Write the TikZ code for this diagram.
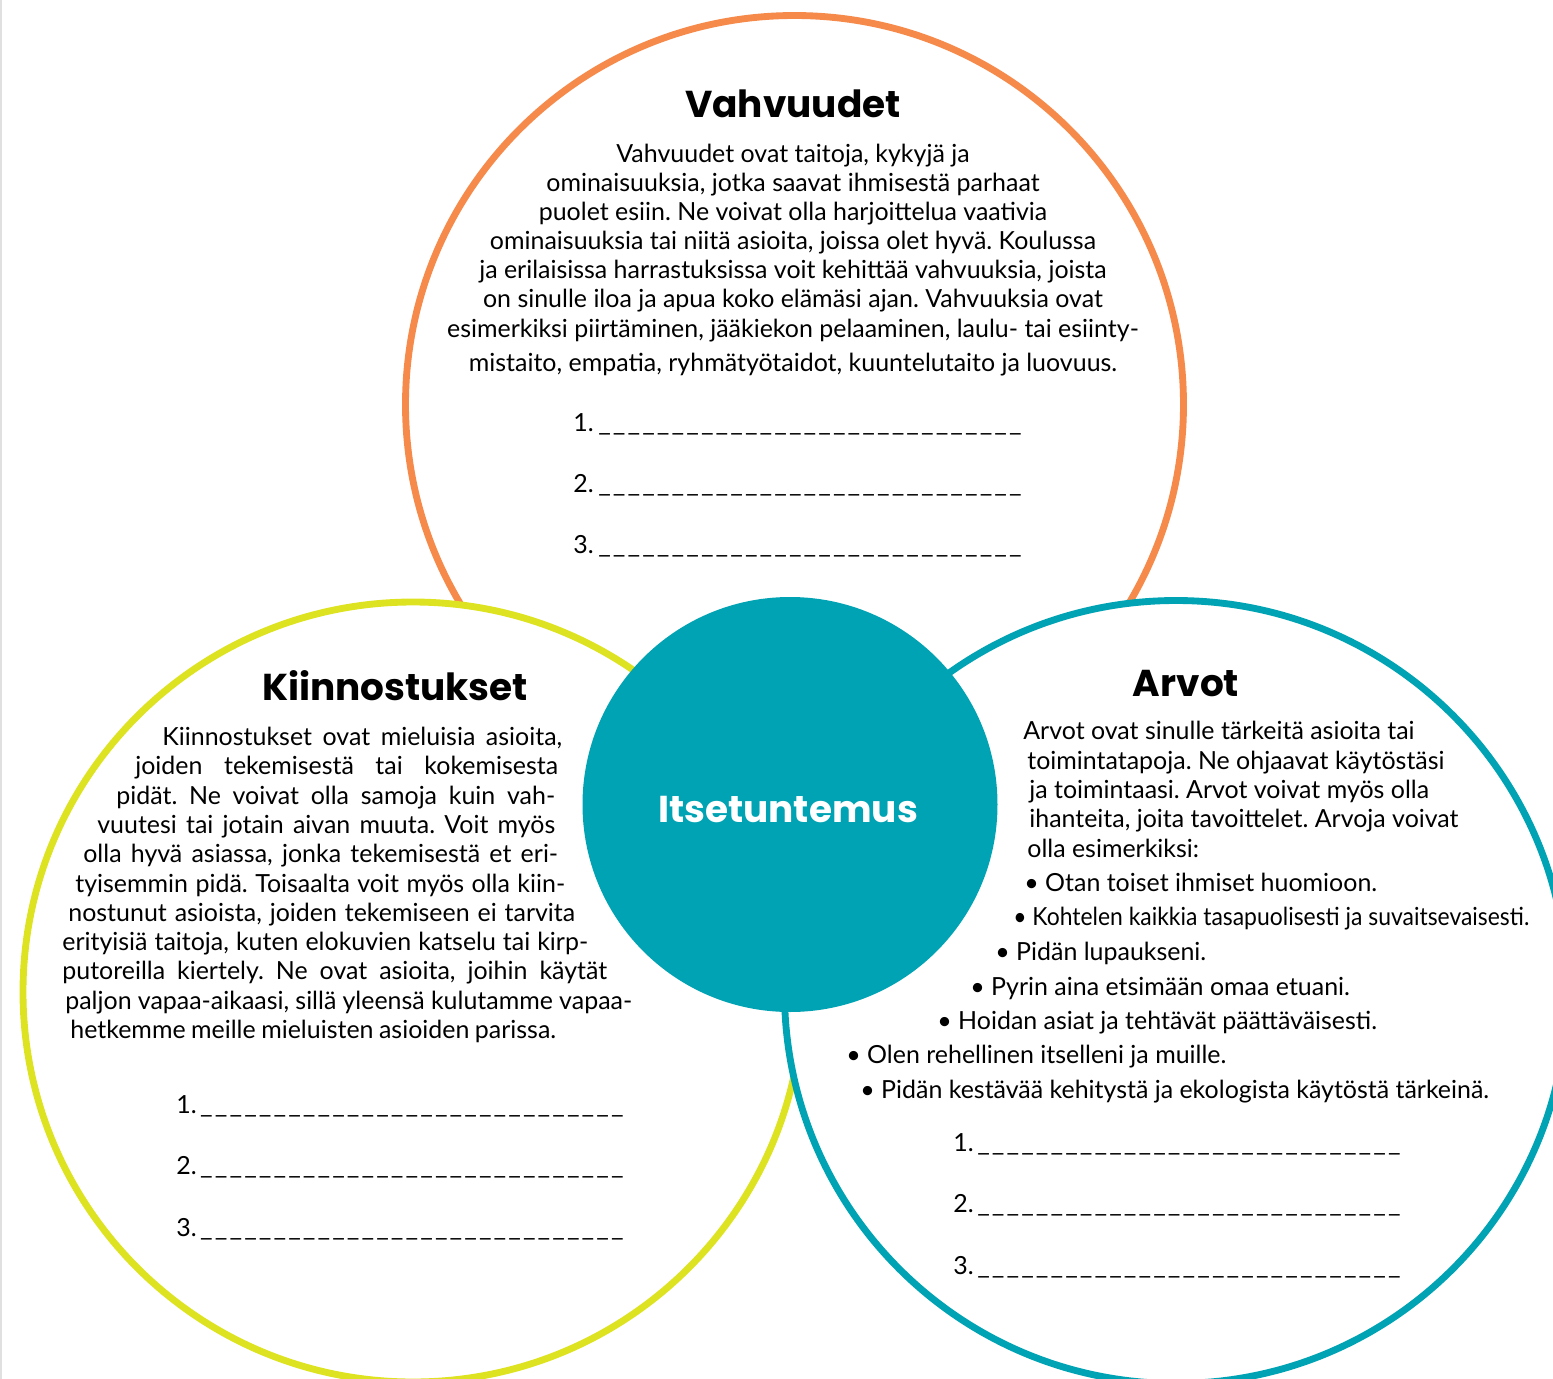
\documentclass[tikz,border=0pt]{standalone}
\usepackage{fontspec}
\usepackage{graphicx}
\setmainfont{Lato}
\newfontfamily\headfont{Poppins}

\definecolor{vorange}{HTML}{F58A4B}
\definecolor{kyellow}{HTML}{DDE320}
\definecolor{ateal}{HTML}{00A3B3}

% row of underscores for the answer lines
\newcommand{\usc}{\scalebox{1.1}[1]{\_}\hfil}
\newcommand{\dashrow}{\makebox[241pt][s]{\usc\usc\usc\usc\usc\usc\usc\usc\usc\usc\usc\usc\usc\usc\usc\usc\usc\usc\usc\usc\usc\usc\usc\usc\usc\usc\usc\usc\scalebox{1.1}[1]{\_}}}

\tikzset{
  ring/.style={line width=3.9pt, fill=white, draw=#1},
  title/.style={font=\headfont\bfseries\fontsize{21.3}{26}\selectfont, anchor=base, inner sep=0pt},
  txt/.style={font=\frenchspacing\fontsize{14.2}{17}\selectfont, anchor=base west, inner sep=0pt},
  ctxt/.style={txt, anchor=base},
}

\begin{document}
\begin{tikzpicture}[x=0.02cm, y=-0.02cm]
  \useasboundingbox (0,0) rectangle (1553,1379);
  \draw [black!12, line width=0.8pt] (1,0) -- (1,1379);

  % circles
  \draw [ring=vorange] (794.5,404.5) circle (389);
  \draw [ring=kyellow] (413,992) circle (390);
  \draw [ring=ateal] (1176,992) circle (391.5);
  \fill [ateal] (790,804.5) circle (207.5);

  % titles
  \node [title] (vahv) at (793,117) {Vahvuudet};
  \node [title] (kiin) at (395,700) {Kiinnostukset};
  \node [title] (arvot) at (1186,696) {Arvot};
  \node [title, white] (itse) at (788,822) {Itsetuntemus};

  % Vahvuudet
  \foreach \i/\y/\t in {1/162/{Vahvuudet ovat taitoja, kykyjä ja},
      2/191/{ominaisuuksia, jotka saavat ihmisestä parhaat},
      3/220/{puolet esiin. Ne voivat olla harjoittelua vaativia},
      4/249/{ominaisuuksia tai niitä asioita, joissa olet hyvä. Koulussa},
      5/278/{ja erilaisissa harrastuksissa voit kehittää vahvuuksia, joista},
      6/307/{on sinulle iloa ja apua koko elämäsi ajan. Vahvuuksia ovat},
      7/337/{esimerkiksi piirtäminen, jääkiekon pelaaminen, laulu- tai esiinty-},
      8/371/{mistaito, empatia, ryhmätyötaidot, kuuntelutaito ja luovuus.}}
    \node [ctxt] (v\i) at (793,\y) {\t};

  \foreach \i/\y in {1/431, 2/492, 3/553}
    \node [txt] (vb\i) at (573,\y) {\makebox[14.2pt][l]{\i.}\dashrow};

  % Kiinnostukset
  \foreach \i/\y/\xl/\xr/\t in {1/745/162/562/{Kiinnostukset ovat mieluisia asioita,},
      2/774/135/558/{joiden tekemisestä tai kokemisesta},
      3/804/116/555/{pidät. Ne voivat olla samoja kuin vah-},
      4/833/97/555/{vuutesi tai jotain aivan muuta. Voit myös},
      5/862/83/558/{olla hyvä asiassa, jonka tekemisestä et eri-},
      6/892/75/565/{tyisemmin pidä. Toisaalta voit myös olla kiin-},
      7/921/68/575/{nostunut asioista, joiden tekemiseen ei tarvita},
      8/950/62/588/{erityisiä taitoja, kuten elokuvien katselu tai kirp-},
      9/979/62/607/{putoreilla kiertely. Ne ovat asioita, joihin käytät},
      10/1009/65/632/{paljon vapaa-aikaasi, sillä yleensä kulutamme vapaa-},
      11/1038/70/556/{hetkemme meille mieluisten asioiden parissa.}}
  {
    \pgfmathsetmacro\w{(\xr-\xl)*0.569}
    \node [txt] (k\i) at (\xl,\y) {\makebox[\w pt][s]{\t}};
  }

  \foreach \i/\y in {1/1113, 2/1174, 3/1236}
    \node [txt] (kb\i) at (176,\y) {\makebox[13.6pt][l]{\i.}\dashrow};

  % Arvot
  \foreach \i/\x/\y/\t in {1/1023/739/{Arvot ovat sinulle tärkeitä asioita tai},
      2/1027/769/{toimintatapoja. Ne ohjaavat käytöstäsi},
      3/1029/798/{ja toimintaasi. Arvot voivat myös olla},
      4/1029/827/{ihanteita, joita tavoittelet. Arvoja voivat},
      5/1027/857/{olla esimerkiksi:},
      6/1024/891/{• Otan toiset ihmiset huomioon.},
      7/1013/925/{\scalebox{0.918}[1]{• Kohtelen kaikkia tasapuolisesti ja suvaitsevaisesti.}},
      8/995/960/{• Pidän lupaukseni.},
      9/970/995/{• Pyrin aina etsimään omaa etuani.},
      10/937/1029/{• Hoidan asiat ja tehtävät päättäväisesti.},
      11/846/1063/{• Olen rehellinen itselleni ja muille.},
      12/860/1098/{• Pidän kestävää kehitystä ja ekologista käytöstä tärkeinä.}}
    \node [txt] (a\i) at (\x,\y) {\t};

  \foreach \i/\y in {1/1151, 2/1212, 3/1274}
    \node [txt] (ab\i) at (953,\y) {\makebox[13.6pt][l]{\i.}\dashrow};
\end{tikzpicture}
\end{document}
